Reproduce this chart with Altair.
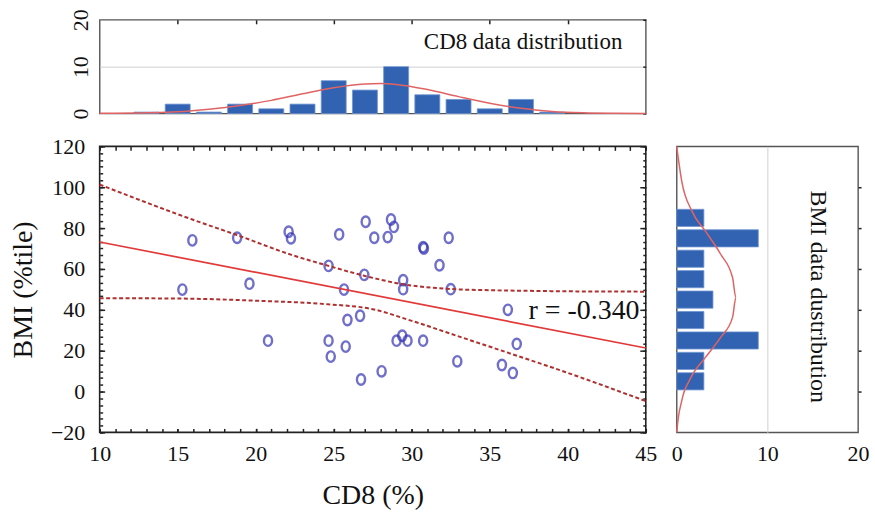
import altair as alt
import pandas as pd

FONT = "Liberation Serif"

# ---------------- data ----------------
cd8 = [15.94, 18.81, 22.11, 22.26, 25.35, 27.05, 27.60, 28.67, 28.86, 28.46,
       30.73, 30.78, 32.37, 24.67, 26.96, 31.78, 29.45, 29.45, 32.50, 15.30,
       19.60, 25.66, 36.16, 26.69, 25.88, 20.79, 24.67, 24.81, 25.77, 29.03,
       29.39, 29.73, 30.73, 32.92, 28.07, 26.75, 35.78, 36.73, 36.48]
bmi = [74.0, 75.3, 78.2, 75.0, 76.9, 83.1, 75.3, 84.2, 80.6, 75.6,
       70.7, 70.0, 75.3, 61.5, 57.1, 61.8, 54.5, 50.1, 50.1, 49.9,
       52.8, 49.9, 40.0, 37.1, 35.0, 24.9, 24.9, 17.1, 22.0, 24.9,
       27.3, 24.9, 24.9, 14.8, 9.9, 5.9, 13.0, 23.3, 9.1]

fit_x = [10, 45]
fit_y = [73.2, 21.3]
upper_x = [10, 13, 15.94, 18.8, 22.3, 24.67, 27, 29.45, 32.5, 35, 37.4, 41, 45]
upper_y = [101.3, 92.5, 84.2, 76.6, 66.9, 61.5, 56.6, 52.5, 50.2, 49.6, 49.3, 49.0, 48.9]
lower_x = [10, 15.3, 20.2, 24.5, 27.5, 30, 33.2, 36.4, 39.6, 45]
lower_y = [45.7, 45.5, 44.4, 42.8, 40.3, 34.6, 26.5, 18.4, 10.2, -4.7]

# top histogram (CD8)
cd8_bin = [13, 15, 17, 19, 21, 23, 25, 27, 29, 31, 33, 35, 37, 39]
cd8_cnt = [0.3, 2, 0.3, 2, 1, 2, 7, 5, 10, 4, 3, 1, 3, 0.3]
cd8_curve_x = [10, 13, 15, 17, 19, 21, 23, 25, 27, 28, 29, 31, 33, 35, 37, 39, 41, 43, 45]
cd8_curve_y = [0.05, 0.15, 0.35, 0.9, 1.7, 2.8, 4.2, 5.5, 6.3, 6.4, 6.2, 5.1, 3.6, 2.2, 1.1, 0.45, 0.15, 0.05, 0.02]

# right histogram (BMI)
bmi_bin = [85, 75, 65, 55, 45, 35, 25, 15, 5]
bmi_cnt = [3, 9, 3, 3, 4, 3, 9, 3, 3]
bmi_curve_y = [120, 102.9, 88.3, 78.5, 67.2, 55.8, 46.0, 36.3, 26.5, 16.7, 6.2, -4.4, -19.0, -20]
bmi_curve_n = [0, 0.56, 1.68, 3.17, 4.85, 6.16, 6.53, 6.16, 4.85, 3.17, 1.49, 0.56, 0.03, 0.02]

r_label = ["r = -0.340"]
r_pos = [(44.6, 39.5)]
top_label = ["CD8 data distribution"]
top_pos = [(43.5, 15.3)]
right_label = ["BMI data dustribution"]
right_pos = [(15.6, 46.4)]

x_ticks = [10, 15, 20, 25, 30, 35, 40, 45]
y_ticks = [-20, 0, 20, 40, 60, 80, 100, 120]
hist_ticks = [0, 10, 20]

# ---------------- styling ----------------
W, H = 548, 287
TOPH = 94
RW = 182
BLUE = "#3262b2"
BAR_EDGE = "#6f95d2"
CURVE = "#e06464"
PT = "#3434b4"
TXT = "#111111"
LBL = dict(labelFont=FONT, labelFontSize=22, labelColor=TXT,
           titleFont=FONT, titleFontSize=28, titleColor=TXT, titleFontWeight="normal")

xs = alt.Scale(domain=[10, 45], nice=False, zero=False)
ys = alt.Scale(domain=[-20, 120], nice=False, zero=False)
hs = alt.Scale(domain=[0, 20], nice=False, zero=False)


def tick_axis(orient, values, size, inward=True, **kw):
    d = dict(orient=orient, values=values, tickSize=size, labels=False,
             title=None, domain=False, grid=False, tickColor="#222", tickWidth=1.5, **LBL)
    if inward:
        d["offset"] = -size
    d.update(kw)
    return alt.Axis(**d)


x_minor = [10 + i for i in range(36)]
y_minor = [-20 + i * 10 / 3 for i in range(43)]

# ---------------- scatter panel ----------------
sc_df = pd.DataFrame({"cd8": cd8, "bmi": bmi})
fit_df = pd.DataFrame({"x": fit_x, "y": fit_y})
up_df = pd.DataFrame({"x": upper_x, "y": upper_y})
lo_df = pd.DataFrame({"x": lower_x, "y": lower_y})
r_df = pd.DataFrame({"x": [p[0] for p in r_pos], "y": [p[1] for p in r_pos], "t": r_label})

ELLIPSE = "M0,-1A0.78,1,0,1,1,0,1A0.78,1,0,1,1,0,-1Z"

pts = alt.Chart(sc_df).mark_point(shape=ELLIPSE, size=110, filled=False, color=PT,
                                  strokeWidth=2.4).encode(
    x=alt.X("cd8:Q", scale=xs,
            axis=tick_axis("bottom", x_ticks, 4, labels=True, labelPadding=11,
                           title="CD8 (%)", titlePadding=17)),
    y=alt.Y("bmi:Q", scale=ys,
            axis=tick_axis("left", y_ticks, 5, labels=True, labelPadding=15,
                           title="BMI (%tile)", titlePadding=13)),
)

fit = alt.Chart(fit_df).mark_line(color="#e23a3a", strokeWidth=1.7).encode(
    x=alt.X("x:Q", scale=xs, axis=tick_axis("bottom", x_minor, 4)),
    y=alt.Y("y:Q", scale=ys, axis=tick_axis("left", y_minor, 3)),
)

up = alt.Chart(up_df).mark_line(color="#b03030", strokeWidth=2, strokeDash=[4, 2.5],
                                interpolate="monotone").encode(
    x=alt.X("x:Q", scale=xs, axis=tick_axis("top", x_minor, 4)),
    y=alt.Y("y:Q", scale=ys, axis=tick_axis("right", y_minor, 3)),
)

lo = alt.Chart(lo_df).mark_line(color="#b03030", strokeWidth=2, strokeDash=[4, 2.5],
                                interpolate="monotone").encode(
    x=alt.X("x:Q", scale=xs, axis=None),
    y=alt.Y("y:Q", scale=ys, axis=tick_axis("right", y_ticks, 6)),
)

rtxt = alt.Chart(r_df).mark_text(align="right", baseline="middle", fontSize=28,
                                 font=FONT, color=TXT).encode(
    x=alt.X("x:Q", scale=xs, axis=None),
    y=alt.Y("y:Q", scale=ys, axis=None),
    text="t:N",
)

scatter = alt.layer(pts, fit, up, lo, rtxt).resolve_axis(
    x="independent", y="independent"
).properties(width=W, height=H,
             view=alt.ViewBackground(stroke="#222", strokeWidth=1.6))

# ---------------- top histogram ----------------
top_df = pd.DataFrame({"c": cd8_bin, "n": cd8_cnt})
top_df["x1"] = top_df["c"] - 0.8
top_df["x2"] = top_df["c"] + 0.8
tcurve_df = pd.DataFrame({"x": cd8_curve_x, "y": cd8_curve_y})
ttxt_df = pd.DataFrame({"x": [p[0] for p in top_pos], "y": [p[1] for p in top_pos], "t": top_label})

tgrid = alt.Chart(tcurve_df).mark_line(opacity=0).encode(
    x=alt.X("x:Q", scale=xs, axis=None),
    y=alt.Y("y:Q", scale=hs,
            axis=alt.Axis(orient="left", values=[10], grid=True, gridColor="#d0d0d0",
                          gridWidth=1, labels=False, ticks=False, domain=False, title=None)),
)
tbars = alt.Chart(top_df).mark_bar(color=BLUE, stroke=BAR_EDGE, strokeWidth=0.8).encode(
    x=alt.X("x1:Q", scale=xs, axis=tick_axis("top", [15, 20, 25, 30, 35, 40], 4)),
    x2="x2:Q",
    y=alt.Y("n:Q", scale=hs,
            axis=alt.Axis(orient="left", values=hist_ticks, ticks=False, tickSize=0,
                          labelPadding=7, labelAngle=270, labelAlign="center",
                          labelBaseline="bottom", domain=False, grid=False, title=None, **LBL)),
    y2=alt.datum(0),
)
tcurve = alt.Chart(tcurve_df).mark_line(color=CURVE, strokeWidth=1.5, interpolate="monotone").encode(
    x=alt.X("x:Q", scale=xs, axis=None),
    y=alt.Y("y:Q", scale=hs, axis=tick_axis("right", hist_ticks, 3)),
)
ttxt = alt.Chart(ttxt_df).mark_text(align="right", baseline="middle", fontSize=23,
                                    font=FONT, color=TXT).encode(
    x=alt.X("x:Q", scale=xs, axis=None),
    y=alt.Y("y:Q", scale=hs, axis=None),
    text="t:N",
)
top = alt.layer(tgrid, tbars, tcurve, ttxt).resolve_axis(
    x="independent", y="independent"
).properties(width=W, height=TOPH,
             view=alt.ViewBackground(stroke="#555", strokeWidth=1.4))

# ---------------- right histogram ----------------
r_h = pd.DataFrame({"c": bmi_bin, "n": bmi_cnt})
r_h["y1"] = r_h["c"] - 4.2
r_h["y2"] = r_h["c"] + 4.2
rcurve_df = pd.DataFrame({"y": bmi_curve_y, "n": bmi_curve_n, "i": list(range(len(bmi_curve_y)))})
rtxt_df = pd.DataFrame({"x": [p[0] for p in right_pos], "y": [p[1] for p in right_pos], "t": right_label})

rgrid = alt.Chart(rcurve_df).mark_line(opacity=0).encode(
    x=alt.X("n:Q", scale=hs,
            axis=alt.Axis(orient="bottom", values=[10], grid=True, gridColor="#d0d0d0",
                          gridWidth=1, labels=False, ticks=False, domain=False, title=None)),
    y=alt.Y("y:Q", scale=ys, axis=None),
)
rbars = alt.Chart(r_h).mark_bar(color=BLUE, stroke=BAR_EDGE, strokeWidth=0.8).encode(
    y=alt.Y("y1:Q", scale=ys, axis=tick_axis("right", [0, 20, 40, 60, 80, 100], 3, inward=False)),
    y2="y2:Q",
    x=alt.X("n:Q", scale=hs,
            axis=alt.Axis(orient="bottom", values=hist_ticks, ticks=False, tickSize=0,
                          labelPadding=11, domain=False, grid=False, title=None, **LBL)),
    x2=alt.datum(0),
)
rcurve = alt.Chart(rcurve_df).mark_line(color=CURVE, strokeWidth=1.5, interpolate="monotone").encode(
    x=alt.X("n:Q", scale=hs, axis=None),
    y=alt.Y("y:Q", scale=ys, axis=None),
    order=alt.Order("i:Q"),
)
rtxt = alt.Chart(rtxt_df).mark_text(align="center", baseline="middle", angle=90, fontSize=24,
                                    font=FONT, color=TXT).encode(
    x=alt.X("x:Q", scale=hs, axis=None),
    y=alt.Y("y:Q", scale=ys, axis=None),
    text="t:N",
)
right = alt.layer(rgrid, rbars, rcurve, rtxt).resolve_axis(
    x="independent", y="independent"
).properties(width=RW, height=H,
             view=alt.ViewBackground(stroke="#555", strokeWidth=1.4))

# ---------------- blank corner ----------------
blank = alt.Chart(pd.DataFrame({"t": [""]})).mark_text().encode(
    text="t:N"
).properties(width=RW, height=TOPH, view=alt.ViewBackground(stroke="transparent"))

chart = alt.concat(
    top, blank, scatter, right,
    columns=2, spacing={"row": 33, "column": 31}, align="each", bounds="flush",
).properties(
    padding={"left": 8, "top": 7, "right": 5, "bottom": 5},
    background="white",
).configure_view(stroke="transparent").configure_axis(
    labelFont=FONT, titleFont=FONT, labelFontSize=22, titleFontSize=28,
    titleFontWeight="normal", labelColor=TXT, titleColor=TXT,
    labelFlush=False, labelOverlap=False,
)

chart.save("out.html", embed_options={"renderer": "svg", "actions": False})
